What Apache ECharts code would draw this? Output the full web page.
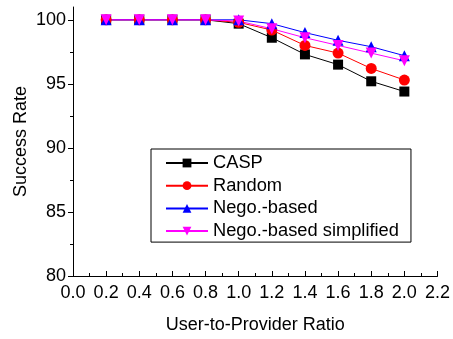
<!DOCTYPE html>
<html><head><meta charset="utf-8">
<script src="https://cdn.jsdelivr.net/npm/echarts@6/dist/echarts.min.js"></script>
<style>html,body{margin:0;padding:0;background:#fff}#c{width:453px;height:339px}</style>
</head><body><div id="c"></div>
<script>
const xValues = [0.2, 0.4, 0.6, 0.8, 1.0, 1.2, 1.4, 1.6, 1.8, 2.0];
const casp = [100, 100, 100, 100, 99.7, 98.6, 97.3, 96.5, 95.2, 94.4];
const random = [100, 100, 100, 100, 99.8, 99.2, 98.0, 97.4, 96.2, 95.3];
const nego = [100, 100, 100, 100, 100, 99.7, 99.0, 98.4, 97.9, 97.2];
const negoSimplified = [100, 100, 100, 100, 99.9, 99.3, 98.6, 98.0, 97.4, 96.8];
const seriesNames = ['CASP', 'Random', 'Nego.-based', 'Nego.-based simplified'];
const yTicks = [80, 85, 90, 95, 100];

const font = 'Liberation Sans, Arial, sans-serif';
const fs = 18;
const chart = echarts.init(document.getElementById('c'));
function mk(name, vals, color, symbol, size, rotate) {
  return {
    name: name, type: 'line', data: xValues.map((x, i) => [x, vals[i]]),
    symbol: symbol, symbolSize: size, symbolRotate: rotate || 0,
    lineStyle: {color: color, width: 1}, itemStyle: {color: color},
    animation: false
  };
}
chart.setOption({
  backgroundColor: '#fff',
  grid: {left: 73, right: 13, top: 7, bottom: 59},
  legend: {
    orient: 'vertical', left: 151, top: 149,
    data: seriesNames,
    itemWidth: 42, itemHeight: 11, itemGap: 4.7,
    padding: [5, 12, 2, 14],
    borderColor: '#000', borderWidth: 1, borderRadius: 0,
    textStyle: {fontFamily: font, fontSize: 18.3, lineHeight: 18, color: '#000'}
  },
  xAxis: {
    type: 'value', min: 0, max: 2.2, interval: 0.2,
    name: 'User-to-Provider Ratio', nameLocation: 'middle', nameGap: 40,
    nameTextStyle: {fontFamily: font, fontSize: fs, color: '#000'},
    axisLine: {lineStyle: {color: '#000', width: 1}},
    axisTick: {inside: true, length: 5, lineStyle: {color: '#000'}},
    minorTick: {show: true, splitNumber: 2, length: 3, lineStyle: {color: '#000'}},
    axisLabel: {fontFamily: font, fontSize: fs, color: '#000', margin: 8, formatter: v => v.toFixed(1)},
    splitLine: {show: false}
  },
  yAxis: {
    type: 'value', min: 80, max: 101, interval: 5,
    name: 'Success Rate', nameLocation: 'middle', nameGap: 43, nameMoveOverlap: false,
    nameTextStyle: {fontFamily: font, fontSize: fs, color: '#000'},
    axisLine: {show: true, lineStyle: {color: '#000', width: 1}},
    axisTick: {show: true, inside: false, length: 5, lineStyle: {color: '#000'}, customValues: yTicks},
    minorTick: {show: true, splitNumber: 2, length: 3, lineStyle: {color: '#000'}},
    axisLabel: {fontFamily: font, fontSize: fs, color: '#000', margin: 7, customValues: yTicks},
    splitLine: {show: false}
  },
  series: [
    mk(seriesNames[0], casp, '#000000', 'rect', 10),
    mk(seriesNames[1], random, '#ff0000', 'circle', 11),
    mk(seriesNames[2], nego, '#0000ff', 'triangle', 11),
    mk(seriesNames[3], negoSimplified, '#ff00ff', 'triangle', 11, 180)
  ]
});
</script></body></html>
